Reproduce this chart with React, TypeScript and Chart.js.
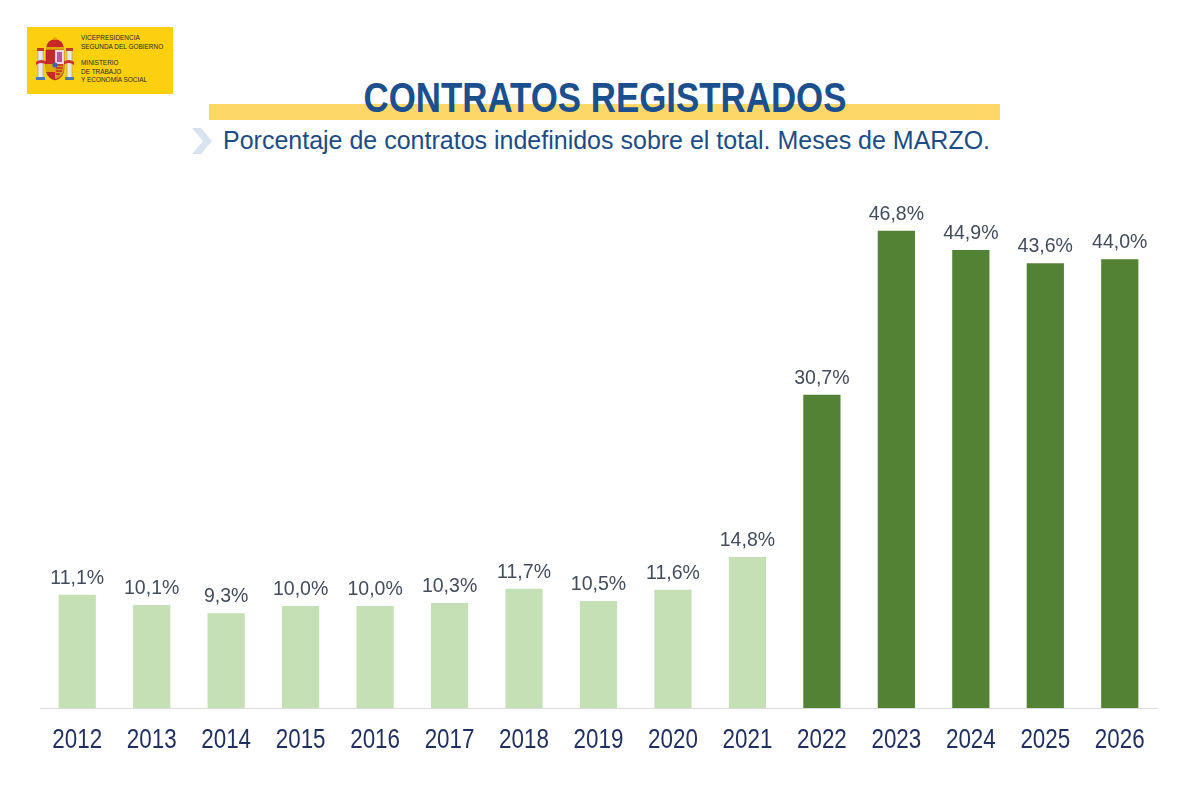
import React, { useEffect, useRef } from "react";
import { Chart, registerables } from "chart.js";

Chart.register(...registerables);

const years = ["2012", "2013", "2014", "2015", "2016", "2017", "2018", "2019", "2020", "2021", "2022", "2023", "2024", "2025", "2026"];
const indefinidosPct = [11.1, 10.1, 9.3, 10.0, 10.0, 10.3, 11.7, 10.5, 11.6, 14.8, 30.7, 46.8, 44.9, 43.6, 44.0];
const reformYearIndex = 10; // from 2022 on: dark green

const LIGHT = "#c5e0b4";
const DARK = "#548235";
const FONT = "'Liberation Sans', Arial, sans-serif";

function drawSquashed(ctx: CanvasRenderingContext2D, txt: string, x: number, y: number, sx: number) {
  ctx.save();
  ctx.translate(x, y);
  ctx.scale(sx, 1);
  ctx.fillText(txt, 0, 0);
  ctx.restore();
}

const labelsPlugin = {
  id: "labelsPlugin",
  afterDatasetsDraw(chart: any) {
    const ctx = chart.ctx as CanvasRenderingContext2D;
    const meta = chart.getDatasetMeta(0);
    const xScale = chart.scales.x;
    const bottom = chart.chartArea.bottom;
    ctx.save();
    ctx.textAlign = "center";
    ctx.textBaseline = "alphabetic";
    // values above bars
    ctx.font = `21px ${FONT}`;
    ctx.fillStyle = "#434c5c";
    meta.data.forEach((bar: any, i: number) => {
      const v = chart.data.datasets[0].data[i] as number;
      const txt = v.toFixed(1).replace(".", ",") + "%";
      drawSquashed(ctx, txt, bar.x, bar.y - 11, 0.93);
    });
    // year labels
    ctx.font = `28px ${FONT}`;
    ctx.fillStyle = "#1f2f5f";
    (chart.data.labels as string[]).forEach((lab: string, i: number) => {
      drawSquashed(ctx, lab, xScale.getPixelForTick(i), bottom + 40, 0.8);
    });
    ctx.restore();
  },
};

function CoatOfArms() {
  return (
    <svg width="40" height="48" viewBox="0 0 40 48" style={{ position: "absolute", left: 35, top: 36 }}>
      <rect x="3" y="14" width="5" height="28" fill="#e8e8e8" stroke="#9a9a9a" strokeWidth="0.6" />
      <rect x="32" y="14" width="5" height="28" fill="#e8e8e8" stroke="#9a9a9a" strokeWidth="0.6" />
      <rect x="2" y="12" width="7" height="3" fill="#c0392b" />
      <rect x="31" y="12" width="7" height="3" fill="#c0392b" />
      <rect x="1" y="41" width="9" height="3" fill="#4a78b8" />
      <rect x="30" y="41" width="9" height="3" fill="#4a78b8" />
      <path d="M1 26 Q6 22 12 26 L12 29 Q6 25 1 29 Z" fill="#d0312d" />
      <path d="M28 26 Q34 22 39 26 L39 29 Q34 25 28 29 Z" fill="#d0312d" />
      <path d="M11 12 Q12 4 20 3 Q28 4 29 12 Z" fill="#c62828" />
      <rect x="11" y="11" width="18" height="3" fill="#e0a800" />
      <circle cx="20" cy="2.5" r="1.6" fill="#e0a800" />
      <path d="M11 14 L29 14 L29 32 Q29 42 20 44 Q11 42 11 32 Z" fill="#c62828" stroke="#8b1a1a" strokeWidth="0.5" />
      <rect x="20" y="14" width="9" height="14" fill="#e9d6e0" />
      <path d="M22 16 L27 16 L27 26 L22 26 Z" fill="#b35a9b" />
      <rect x="11" y="28" width="9" height="8" fill="#e0a800" />
      <path d="M20 28 L29 28 L29 32 Q29 40 21 43 L20 43 Z" fill="#d4a017" />
      <path d="M21 29 L28 29 M21 32 L28 32 M21 35 L27 35 M21 38 L25 38" stroke="#c62828" strokeWidth="1.3" />
      <circle cx="20" cy="29" r="2.6" fill="#3f63b0" />
    </svg>
  );
}

export default function App() {
  const canvasRef = useRef<HTMLCanvasElement>(null);

  useEffect(() => {
    if (!canvasRef.current) return;
    const chart = new Chart(canvasRef.current, {
      type: "bar",
      data: {
        labels: years,
        datasets: [
          {
            data: indefinidosPct,
            backgroundColor: indefinidosPct.map((_, i) => (i >= reformYearIndex ? DARK : LIGHT)),
            borderWidth: 0,
            categoryPercentage: 1,
            barPercentage: 0.5,
          },
        ],
      },
      options: {
        responsive: false,
        animation: false,
        devicePixelRatio: 1,
        layout: { padding: { left: 40, right: 43, top: 198, bottom: 92 } },
        plugins: { legend: { display: false }, tooltip: { enabled: false }, title: { display: false } },
        scales: {
          y: { display: false, min: 0, max: 50 },
          x: {
            grid: { display: false, drawTicks: false },
            border: { display: true, color: "#dcdcdc", width: 1 },
            ticks: { display: false },
          },
        },
      },
      plugins: [labelsPlugin],
    });
    return () => chart.destroy();
  }, []);

  return (
    <div style={{ position: "absolute", left: 0, top: 0, width: 1200, height: 800, background: "#ffffff", overflow: "hidden" }}>
      {/* Logo */}
      <div style={{ position: "absolute", left: 27, top: 27, width: 146, height: 67, background: "#fccf0f" }} />
      <CoatOfArms />
      <div
        style={{
          position: "absolute",
          left: 81,
          top: 34,
          fontFamily: FONT,
          fontSize: 7.5,
          lineHeight: "8.5px",
          color: "#2b2b2b",
          whiteSpace: "nowrap",
          transform: "scaleX(0.86)",
          transformOrigin: "left top",
        }}
      >
        <div>VICEPRESIDENCIA</div>
        <div>SEGUNDA DEL GOBIERNO</div>
        <div style={{ height: 8 }} />
        <div>MINISTERIO</div>
        <div>DE TRABAJO</div>
        <div>Y ECONOMÍA SOCIAL</div>
      </div>

      {/* Yellow band */}
      <div style={{ position: "absolute", left: 209, top: 104, width: 791, height: 16, background: "#fdd868" }} />
      {/* Title */}
      <div
        style={{
          position: "absolute",
          left: 0,
          width: 1210,
          top: 73,
          textAlign: "center",
          fontFamily: FONT,
          fontWeight: "bold",
          fontSize: 42,
          lineHeight: "50px",
          color: "#1b4f8e",
          whiteSpace: "nowrap",
          transform: "scaleX(0.83)",
          transformOrigin: "605px 0px",
        }}
      >
        CONTRATOS REGISTRADOS
      </div>
      {/* Chevron */}
      <svg width="22" height="26" style={{ position: "absolute", left: 191, top: 128 }}>
        <path d="M1 0 L10 0 L21 13 L10 26 L1 26 L12 13 Z" fill="#d9e2ef" />
      </svg>
      {/* Subtitle */}
      <div
        style={{
          position: "absolute",
          left: 223,
          top: 125,
          fontFamily: FONT,
          fontSize: 25,
          lineHeight: "30px",
          color: "#1c4c86",
          whiteSpace: "nowrap",
        }}
      >
        Porcentaje de contratos indefinidos sobre el total. Meses de MARZO.
      </div>

      <canvas ref={canvasRef} width={1200} height={800} style={{ position: "absolute", left: 0, top: 0 }} />
    </div>
  );
}
